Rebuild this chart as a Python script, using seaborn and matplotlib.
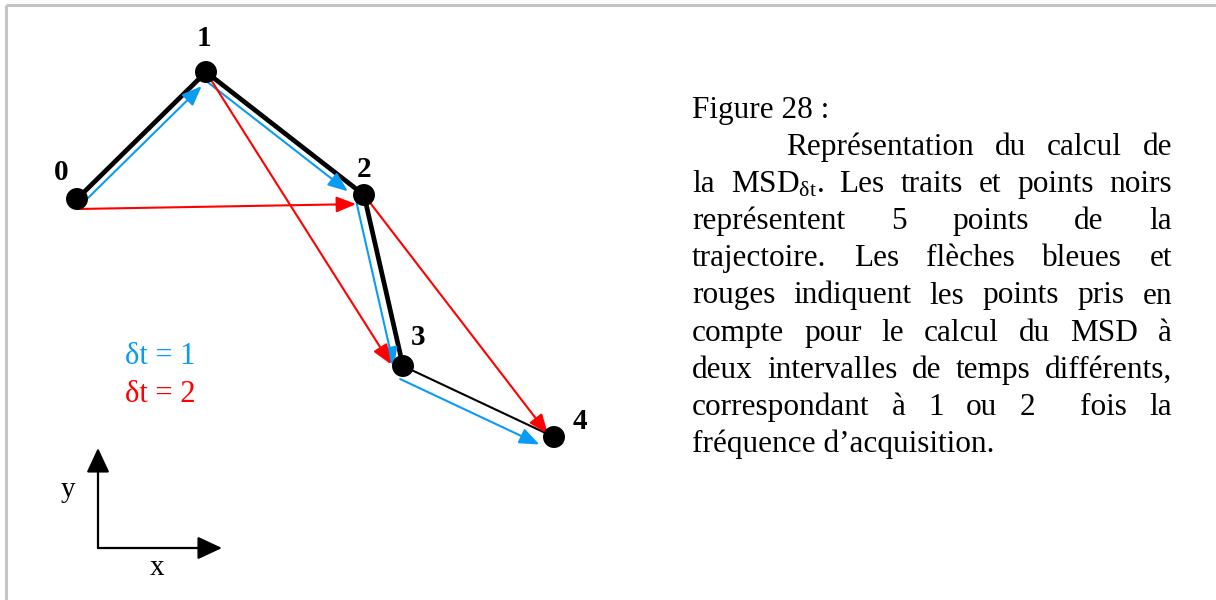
import numpy as np
import pandas as pd
import seaborn as sns
import matplotlib.pyplot as plt

# trajectory points (pixel-like units, y down)
point_ids = ['0', '1', '2', '3', '4']
traj_x = [77, 206, 364, 403, 554]
traj_y = [199, 72, 195, 366, 437]

# displacements shown for each time lag: (from, to)
lag1_pairs = [(0, 1), (1, 2), (2, 3), (3, 4)]
lag2_pairs = [(0, 2), (1, 3), (2, 4)]

legend_labels = ['\u03b4t = 1', '\u03b4t = 2']

caption_lines = [
    'Figure 28 :',
    'Repr\u00e9sentation du calcul de',
    'la MSD$_\\mathrm{\u03b4t}$. Les traits et points noirs',
    'repr\u00e9sentent 5 points de la',
    'trajectoire. Les fl\u00e8ches bleues et',
    'rouges indiquent les points pris en',
    'compte pour le calcul du MSD \u00e0',
    'deux intervalles de temps diff\u00e9rents,',
    'correspondant \u00e0 1 ou 2  fois la',
    'fr\u00e9quence d\u2019acquisition.',
]

BLUE = '#0a9cf5'
RED = '#ff0000'

sns.set_theme(style='white')
plt.rcParams['font.family'] = ['Liberation Serif', 'DejaVu Serif']
plt.rcParams['text.color'] = 'black'
plt.rcParams['mathtext.fontset'] = 'custom'
plt.rcParams['mathtext.rm'] = 'Liberation Serif'
plt.rcParams['mathtext.it'] = 'Liberation Serif:italic'
plt.rcParams['mathtext.bf'] = 'Liberation Serif:bold'

fig = plt.figure(figsize=(12.16, 6), dpi=100)
ax = fig.add_axes([0, 0, 1, 1])

df = pd.DataFrame({'x': traj_x, 'y': traj_y, 'id': point_ids})

# black trajectory: thick for the first three steps, thin for the last
sns.lineplot(data=df.iloc[:4], x='x', y='y', sort=False, estimator=None,
             color='black', lw=3.4, ax=ax)
sns.lineplot(data=df.iloc[3:], x='x', y='y', sort=False, estimator=None,
             color='black', lw=1.5, ax=ax)

pts = np.column_stack([traj_x, traj_y]).astype(float)


def arrow(i, j, color, off_a, off_b, sa, sb):
    p, q = pts[i], pts[j]
    d = (q - p) / np.linalg.norm(q - p)
    n = np.array([-d[1], d[0]])
    start = p + n * off_a + d * sa
    end = q + n * off_b - d * sb
    ax.annotate('', xy=end, xytext=start,
                arrowprops=dict(arrowstyle='-|>,head_length=0.6,head_width=0.24',
                                color=color, lw=1.5, shrinkA=0, shrinkB=0,
                                mutation_scale=20))


blue_tweaks = [(7, 7, 4, 13), (7, 7, 4, 15), (9, 9, 6, 1), (13, 13, 3, 10)]
red_tweaks = [(10, 9, 1, 8), (0, 9, 0, 8), (0, 3, 9, 6)]
for (i, j), tw in zip(lag1_pairs, blue_tweaks):
    arrow(i, j, BLUE, *tw)
for (i, j), tw in zip(lag2_pairs, red_tweaks):
    arrow(i, j, RED, *tw)

sns.scatterplot(data=df, x='x', y='y', s=250, color='black', edgecolor='none',
                ax=ax, zorder=5)

label_offsets = [(-16, -19), (-2, -26), (0, -18), (15, -21), (26, -8)]
for (px, py), lab, (dx, dy) in zip(pts, point_ids, label_offsets):
    ax.text(px + dx, py + dy, lab, fontsize=21, fontweight='bold',
            ha='center', va='baseline', color='black')

# legend for the lags
ax.text(125, 364, legend_labels[0], color=BLUE, fontsize=22, va='baseline')
ax.text(125, 402, legend_labels[1], color=RED, fontsize=22, va='baseline')

# x / y orientation sketch
corner = (98, 548)
for tip in [(98, 448), (222, 548)]:
    ax.annotate('', xy=tip, xytext=corner,
                arrowprops=dict(arrowstyle='-|>,head_length=0.75,head_width=0.35',
                                color='black', lw=1.6, shrinkA=0, shrinkB=0,
                                mutation_scale=20))
ax.text(68, 497, 'y', fontsize=21, ha='center', va='baseline')
ax.text(157, 575, 'x', fontsize=21, ha='center', va='baseline')

# caption, justified like the original document
FS = 22.5
renderer = fig.canvas.get_renderer()
x_left, x_right, indent = 692, 1172, 786
y0, dy_line = 118, 37.1
for k, line in enumerate(caption_lines):
    y = y0 + k * dy_line
    if k == 0 or k == len(caption_lines) - 1:
        ax.text(x_left, y, line, fontsize=FS, va='baseline', ha='left')
        continue
    start = indent if k == 1 else x_left
    words = line.split(' ')
    texts = [ax.text(0, y, w, fontsize=FS, va='baseline', ha='left') for w in words]
    widths = [t.get_window_extent(renderer).width if w else 0.0
              for t, w in zip(texts, words)]
    gap = (x_right - start - sum(widths)) / (len(words) - 1)
    x = start
    for t, w in zip(texts, widths):
        t.set_x(x)
        x += w + gap

# page frame (top and left edges visible)
ax.plot([6, 1216], [5, 5], color='#c4c4c4', lw=2.2, solid_capstyle='butt')
ax.plot([6, 6], [5, 600], color='#c4c4c4', lw=2.2, solid_capstyle='butt')

ax.set_xlim(0, 1216)
ax.set_ylim(600, 0)
ax.set_axis_off()

fig.savefig('out.png', dpi=100, facecolor='white')
